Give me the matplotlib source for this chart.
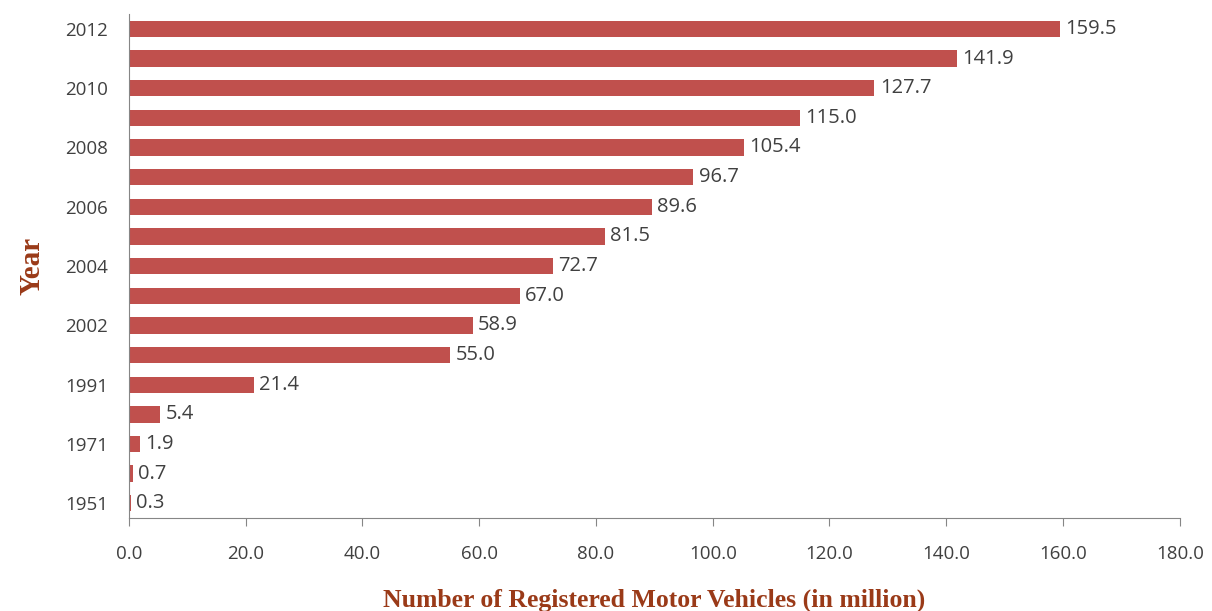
import matplotlib
matplotlib.use("Agg")
import matplotlib.pyplot as plt
import numpy as np

years = ["1951", "1961", "1971", "1981", "1991", "2001", "2002", "2003", "2004",
         "2005", "2006", "2007", "2008", "2009", "2010", "2011", "2012"]
vehicles = [0.3, 0.7, 1.9, 5.4, 21.4, 55.0, 58.9, 67.0, 72.7,
            81.5, 89.6, 96.7, 105.4, 115.0, 127.7, 141.9, 159.5]

bar_color = "#C0504D"
label_color = "#9A3A18"
text_color = "#404040"

fig = plt.figure(figsize=(12.12, 6.11), dpi=100)
ax = fig.add_axes([0.1064, 0.152, 0.867, 0.825])

y = np.arange(len(years))
ax.barh(y, vehicles, height=0.55, color=bar_color)
for yi, v in zip(y, vehicles):
    ax.text(v + 0.9, yi, f"{v:.1f}", va="center", ha="left",
            fontsize=14.5, color=text_color, family="Open Sans")

ax.set_ylim(-0.5, len(years) - 0.5)
ax.set_xlim(0, 180)
ax.set_xticks(np.arange(0, 181, 20))
ax.set_xticklabels([f"{t:.1f}" for t in np.arange(0, 181, 20)],
                   family="Open Sans", fontsize=13.5, color=text_color)
ax.set_yticks(y[::2])
ax.set_yticklabels(years[::2], family="Open Sans", fontsize=13.5, color=text_color)
ax.tick_params(axis="y", length=0, pad=15)
ax.tick_params(axis="x", length=6, color="#868686", direction="out", pad=13)

for side in ("top", "right"):
    ax.spines[side].set_visible(False)
for side in ("left", "bottom"):
    ax.spines[side].set_color("#868686")

ax.set_xlabel("Number of Registered Motor Vehicles (in million)",
              family="Liberation Serif", fontweight="bold", fontsize=18.5,
              color=label_color, labelpad=19)
ax.set_ylabel("Year", family="Liberation Serif", fontweight="bold",
              fontsize=21, color=label_color, labelpad=14)

fig.savefig("out.png", dpi=100)
